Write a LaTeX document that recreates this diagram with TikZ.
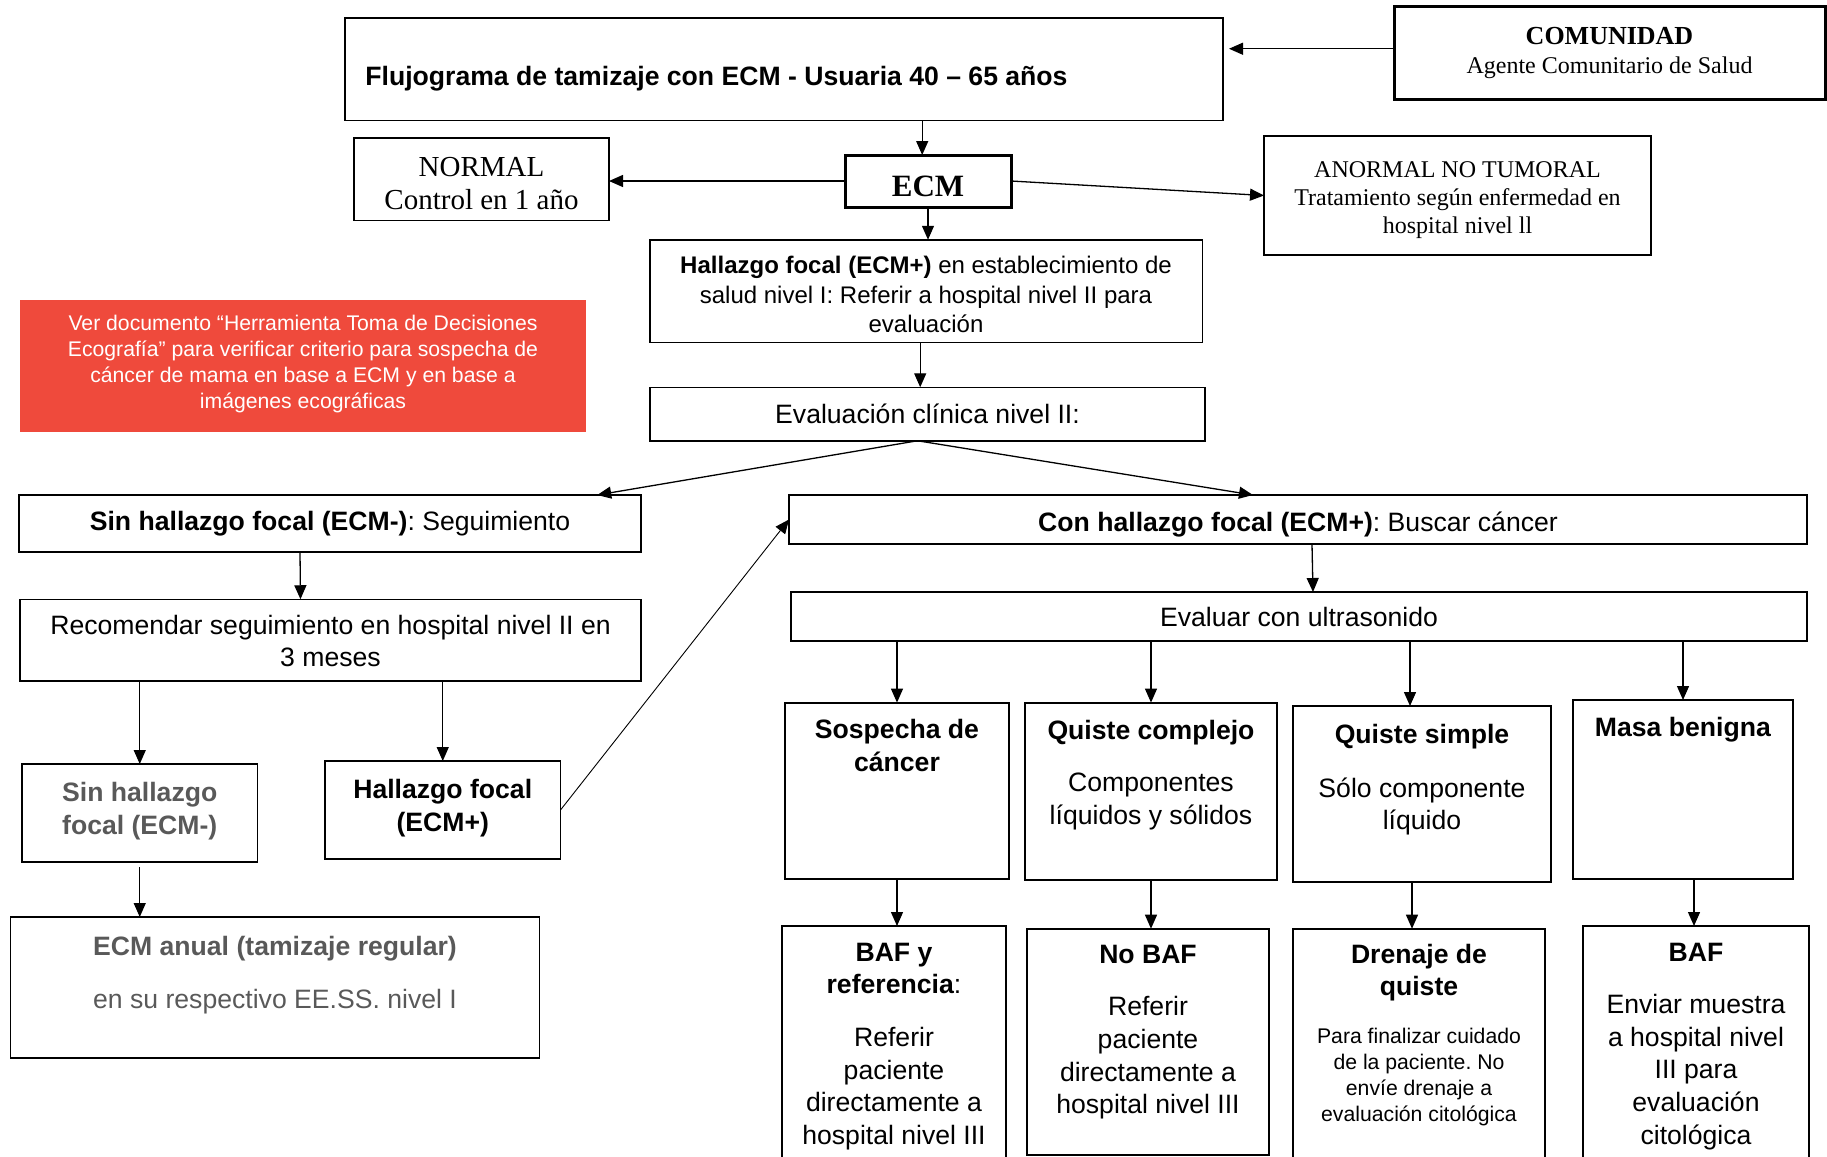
\documentclass[tikz,border=0pt]{standalone}
\usepackage{fontspec}
\setmainfont{Liberation Sans}
\newfontfamily\timesfont{Liberation Serif}
\usepackage{tikz}
\usetikzlibrary{arrows.meta}
\definecolor{notered}{RGB}{239,74,60}
\definecolor{greytext}{RGB}{89,89,89}
\frenchspacing

\begin{document}
\begin{tikzpicture}[x=0.5pt,y=0.5pt,yscale=-1,xscale=1,
  box/.style={draw, line width=0.75pt, inner sep=0pt, outer sep=0pt},
  thickbox/.style={box, line width=1.5pt},
  midbox/.style={box, line width=1pt},
  arr/.style={line width=0.65pt, -{Triangle[length=7pt,width=6pt]}},
  sanstxt/.style={font=\fontsize{13.3}{16.3}\selectfont, align=center, inner sep=0pt},
  smalltxt/.style={font=\fontsize{10.6}{13}\selectfont, align=center, inner sep=0pt},
  serftxt/.style={font=\timesfont\fontsize{12}{14}\selectfont, align=center, inner sep=0pt}]
\useasboundingbox (0,0) rectangle (1827,1157);

%Shape: Rectangle [title]
\node [box, minimum width=439pt, minimum height=51.25pt] (title) at (784,69) {};
% Text Node
\node [sanstxt, anchor=west] (titletxt) at (365,78.3) {\textbf{Flujograma de tamizaje con ECM - Usuaria 40 – 65 años}};
%Shape: Rectangle [comunidad]
\node [thickbox, serftxt, font=\timesfont\fontsize{12}{14.5}\selectfont, minimum width=215.5pt, minimum height=46.5pt] (comunidad) at (1609.5,52.5) {{\bfseries\fontsize{13}{14.5}\selectfont COMUNIDAD}\\Agente Comunitario de Salud};
%Shape: Rectangle [normal]
\node [box, minimum width=127.5pt, minimum height=41.25pt] (normal) at (481.5,179) {};
% Text Node
\node [serftxt, font=\timesfont\fontsize{14.5}{16.75}\selectfont] (normaltxt) at (481.5,183.7) {NORMAL\\Control en 1 año};
%Shape: Rectangle [ecm]
\node [thickbox, minimum width=83pt, minimum height=26pt] (ecm) at (928,181) {};
% Text Node
\node [serftxt, font=\timesfont\bfseries\fontsize{15.5}{18}\selectfont] (ecmtxt) at (928,186.8) {ECM};
%Shape: Rectangle [anormal]
\node [box, minimum width=193.5pt, minimum height=59.5pt] (anormal) at (1457.5,195.5) {};
% Text Node
\node [serftxt] (anormaltxt) at (1457.5,200.2) {ANORMAL NO TUMORAL\\Tratamiento según enfermedad en\\hospital nivel ll};
%Shape: Rectangle [hallazgo]
\node [box, minimum width=276.25pt, minimum height=51.25pt] (hallazgo) at (926,291) {};
% Text Node
\node [sanstxt, font=\fontsize{12}{14.85}\selectfont] (hallazgotxt) at (926,294.5) {\textbf{Hallazgo focal (ECM+)} en establecimiento de\\salud nivel I: Referir a hospital nivel II para\\evaluación};
%Shape: Rectangle [evalclin]
\node [box, sanstxt, minimum width=277.5pt, minimum height=26.75pt] (evalclin) at (927.5,414) {Evaluación clínica nivel II:};
%Shape: Rectangle [nota]
\node [box, draw=none, fill=notered, minimum width=283pt, minimum height=66.25pt] (nota) at (303,366) {};
% Text Node
\node [smalltxt, text=white] (notatxt) at (303,364) {Ver documento “Herramienta Toma de Decisiones\\Ecografía” para verificar criterio para sospecha de\\cáncer de mama en base a ECM y en base a\\imágenes ecográficas};

%Shape: Rectangle [sinfocal]
\node [box, sanstxt, minimum width=311.2pt, minimum height=28.5pt] (sinfocal) at (330,523.5) {\textbf{Sin hallazgo focal (ECM-)}: Seguimiento};
%Shape: Rectangle [recom]
\node [box, minimum width=310.5pt, minimum height=40.75pt] (recom) at (330.5,640) {};
% Text Node
\node [sanstxt] (recomtxt) at (330.5,641) {Recomendar seguimiento en hospital nivel II en\\3 meses};
%Shape: Rectangle [sinecm]
\node [box, minimum width=117.75pt, minimum height=49pt] (sinecm) at (139.75,813) {};
% Text Node
\node [sanstxt, text=greytext] (sinecmtxt) at (139.75,811) {\textbf{Sin hallazgo}\\\textbf{focal (ECM-)}};
%Shape: Rectangle [hallecm]
\node [box, minimum width=117.75pt, minimum height=49pt] (hallecm) at (442.75,810) {};
% Text Node
\node [sanstxt] (hallecmtxt) at (442.75,808) {\textbf{Hallazgo focal}\\\textbf{(ECM+)}};
%Shape: Rectangle [anual]
\node [box, minimum width=264.5pt, minimum height=70.5pt] (anual) at (275,987.5) {};
% Text Node
\node [sanstxt, text=greytext] (anualtit) at (275,948.5) {\textbf{ECM anual (tamizaje regular)}};
% Text Node
\node [sanstxt, text=greytext] (anualtxt) at (275,1002) {en su respectivo EE.SS. nivel I};

%Shape: Rectangle [confocal]
\node [box, minimum width=509pt, minimum height=24.5pt] (confocal) at (1298,519.5) {};
% Text Node
\node [sanstxt] (confocaltxt) at (1298,524.2) {\textbf{Con hallazgo focal (ECM+)}: Buscar cáncer};
%Shape: Rectangle [evaluar]
\node [box, sanstxt, minimum width=508pt, minimum height=24.5pt] (evaluar) at (1299,616.5) {Evaluar con ultrasonido};

%Shape: Rectangle [sosp]
\node [midbox, minimum width=112pt, minimum height=88pt] (sosp) at (897,790.6) {};
%Shape: Rectangle [qcomp]
\node [midbox, minimum width=126pt, minimum height=88.7pt] (qcomp) at (1151,791.3) {};
%Shape: Rectangle [qsimp]
\node [midbox, minimum width=129pt, minimum height=88pt] (qsimp) at (1422,794) {};
%Shape: Rectangle [masa]
\node [midbox, minimum width=110pt, minimum height=89.3pt] (masa) at (1683,789.3) {};
% Text Node
\node [sanstxt] (sosptit) at (897,745.5) {\textbf{Sospecha de}\\\textbf{cáncer}};
% Text Node
\node [sanstxt] (qcomptit) at (1151,732.9) {\textbf{Quiste complejo}};
% Text Node
\node [sanstxt] (qcomptxt) at (1151,801.6) {Componentes\\líquidos y sólidos};
% Text Node
\node [sanstxt] (qsimptit) at (1422,736.3) {\textbf{Quiste simple}};
% Text Node
\node [sanstxt] (qsimptxt) at (1422,806.3) {Sólo componente\\líquido};
% Text Node
\node [sanstxt] (masatit) at (1683,729.3) {\textbf{Masa benigna}};

%Shape: Rectangle [bafref]
\node [midbox, minimum width=111.8pt, minimum height=119.5pt] (bafref) at (893.8,1045.5) {};
%Shape: Rectangle [nobaf]
\node [midbox, minimum width=121.25pt, minimum height=113.15pt] (nobaf) at (1147.75,1041.85) {};
%Shape: Rectangle [dren]
\node [midbox, minimum width=126pt, minimum height=118.15pt] (dren) at (1419,1046.85) {};
%Shape: Rectangle [baf]
\node [midbox, minimum width=113pt, minimum height=119.5pt] (baf) at (1696,1045.5) {};
% Text Node
\node [sanstxt] (bafreftit) at (894,968.3) {\textbf{BAF y}\\\textbf{referencia}:};
% Text Node
\node [sanstxt] (bafreftxt) at (894,1088.5) {Referir\\paciente\\directamente a\\hospital nivel III};
% Text Node
\node [sanstxt] (nobaftit) at (1148,954) {\textbf{No BAF}};
% Text Node
\node [sanstxt] (nobaftxt) at (1148,1058) {Referir\\paciente\\directamente a\\hospital nivel III};
% Text Node
\node [sanstxt] (drentit) at (1419,972.5) {\textbf{Drenaje de}\\\textbf{quiste}};
% Text Node
\node [smalltxt] (drentxt) at (1419,1077.5) {Para finalizar cuidado\\de la paciente. No\\envíe drenaje a\\evaluación citológica};
% Text Node
\node [sanstxt] (baftit) at (1696,952) {\textbf{BAF}};
% Text Node
\node [sanstxt] (baftxt) at (1696,1072) {Enviar muestra\\a hospital nivel\\III para\\evaluación\\citológica};

%Straight Lines
\draw [arr, shorten >=3pt] (comunidad.179.5) -- (comunidad.179.5 -| title.east);
\draw [arr] ([xshift=-2.9pt]title.south -| ecm.north) -- ([xshift=-2.9pt]ecm.north);
\draw [arr] (ecm.west) -- (ecm.west -| normal.east);
\draw [arr] (ecm.east) -- (anormal.west);
\draw [arr] (ecm.south) -- (ecm.south |- hallazgo.north);
\draw [arr] ([xshift=-2.9pt]hallazgo.south) -- ([xshift=-2.9pt]hallazgo.south |- evalclin.north);
\draw [arr] ([xshift=-5pt]evalclin.south) -- ([xshift=-22pt]sinfocal.north east);
\draw [arr] ([xshift=-5pt]evalclin.south) -- ([xshift=-22.5pt]confocal.north);
\draw [arr] ([xshift=-15pt]sinfocal.south) -- ([xshift=-15pt]recom.north);
\draw [arr] (recom.south -| sinecm.north) -- (sinecm.north);
\draw [arr] (recom.south -| hallecm.north) -- (hallecm.north);
\draw [arr, line width=0.45pt] (hallecm.east) -- (confocal.west);
\draw [arr, shorten <=2.5pt] (sinecm.south) -- (anual.north -| sinecm.south);
\draw [arr] ([xshift=7pt]confocal.south) -- ([xshift=7pt]evaluar.north);
\draw [arr] (evaluar.south -| sosp.north) -- (sosp.north);
\draw [arr] (evaluar.south -| qcomp.north) -- (qcomp.north);
\draw [arr] ([xshift=-6pt]evaluar.south -| qsimp.north) -- ([xshift=-6pt]qsimp.north);
\draw [arr] (evaluar.south -| masa.north) -- (masa.north);
\draw [arr] (sosp.south) -- (sosp.south |- bafref.north);
\draw [arr] (qcomp.south) -- (qcomp.south |- nobaf.north);
\draw [arr] ([xshift=-5pt]qsimp.south) -- ([xshift=-5pt]qsimp.south |- dren.north);
\draw [arr] ([xshift=5.5pt]masa.south) -- ([xshift=5.5pt]masa.south |- baf.north);

\end{tikzpicture}
\end{document}
